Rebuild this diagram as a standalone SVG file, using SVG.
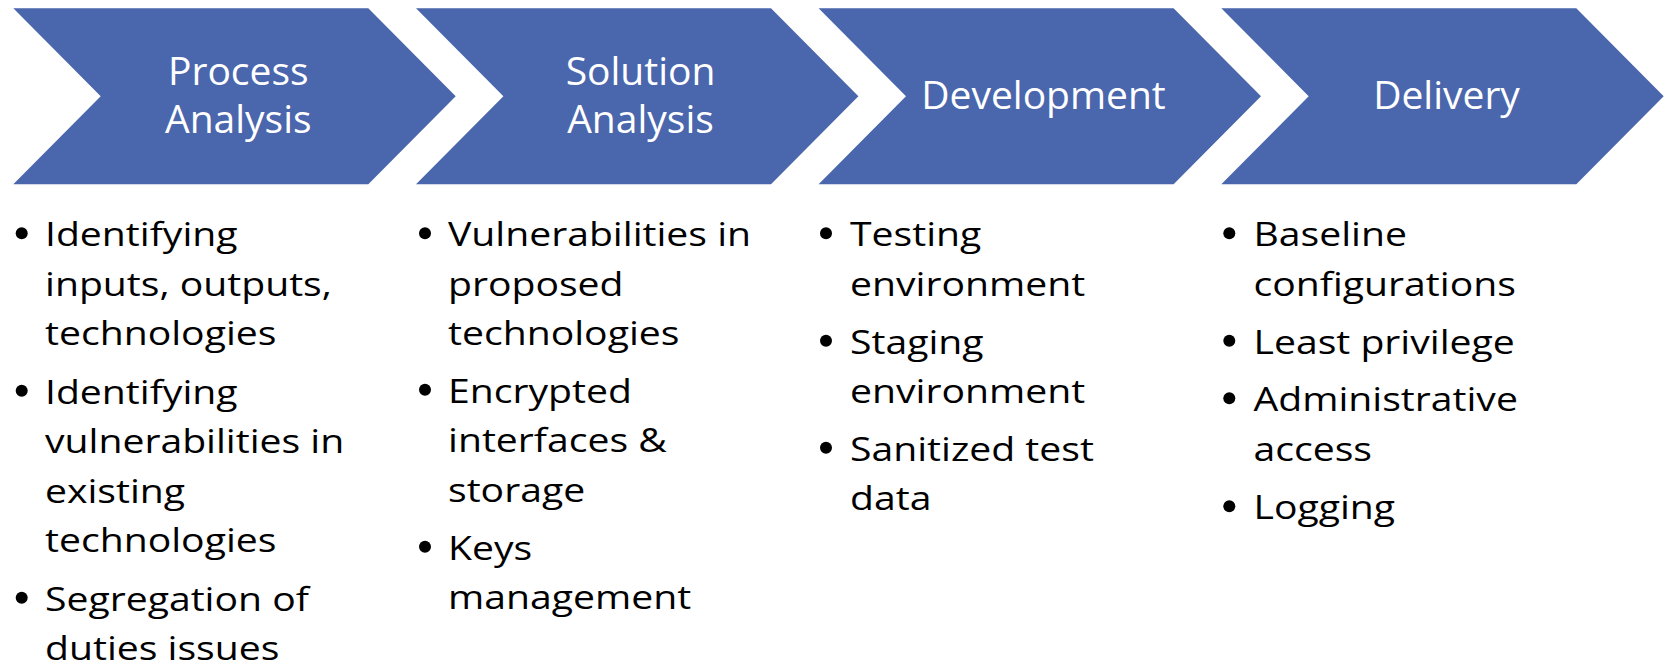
<svg xmlns="http://www.w3.org/2000/svg" width="1667" height="664" viewBox="0 0 1667 664">
<style>
.chev{fill:#4A66AC;}
.hd{font-family:"Open Sans","Liberation Sans",sans-serif;font-size:39px;fill:#FFFFFF;text-anchor:middle;}
.bd{font-family:"Open Sans","Liberation Sans",sans-serif;font-size:33.6px;fill:#000000;}
.bl{fill:#000000;}
</style>
<defs>
<polygon id="chevron" points="0,8.3 355,8.3 442.4,96.3 355,184.3 0,184.3 87.4,96.3"/>
</defs>
<rect x="0" y="0" width="1667" height="664" fill="#FFFFFF"/>
<g id="connectors"></g>
<g id="stage-process-analysis">
<use href="#chevron" class="chev" x="13.3" y="0"/>
<text class="hd"><tspan x="238.3" y="85">Process</tspan><tspan x="238.3" y="133.3">Analysis</tspan></text>
</g>
<g id="stage-solution-analysis">
<use href="#chevron" class="chev" x="416" y="0"/>
<text class="hd"><tspan x="640.5" y="84.5">Solution</tspan><tspan x="640.5" y="133.3">Analysis</tspan></text>
</g>
<g id="stage-development">
<use href="#chevron" class="chev" x="818.6" y="0"/>
<text class="hd"><tspan x="1043.5" y="109.3">Development</tspan></text>
</g>
<g id="stage-delivery">
<use href="#chevron" class="chev" x="1221.3" y="0"/>
<text class="hd"><tspan x="1446.5" y="109.3">Delivery</tspan></text>
</g>
<g id="list-process-analysis">
<circle class="bl" cx="21.7" cy="233.2" r="6"/>
<circle class="bl" cx="21.7" cy="390.7" r="6"/>
<circle class="bl" cx="21.7" cy="597.7" r="6"/>
<text class="bd" transform="translate(45 0) scale(1.165 1)"><tspan x="0" y="246.5">Identifying</tspan><tspan x="0" y="296">inputs, outputs,</tspan><tspan x="0" y="345.5">technologies</tspan><tspan x="0" y="404">Identifying</tspan><tspan x="0" y="453.5">vulnerabilities in</tspan><tspan x="0" y="503">existing</tspan><tspan x="0" y="552.5">technologies</tspan><tspan x="0" y="611">Segregation of</tspan><tspan x="0" y="660.5">duties issues</tspan></text>
</g>
<g id="list-solution-analysis">
<circle class="bl" cx="425" cy="233.2" r="6"/>
<circle class="bl" cx="425" cy="389.7" r="6"/>
<circle class="bl" cx="425" cy="546.7" r="6"/>
<text class="bd" transform="translate(448 0) scale(1.165 1)"><tspan x="0" y="246.5">Vulnerabilities in</tspan><tspan x="0" y="296">proposed</tspan><tspan x="0" y="345.5">technologies</tspan><tspan x="0" y="403">Encrypted</tspan><tspan x="0" y="452.5">interfaces &amp;</tspan><tspan x="0" y="502">storage</tspan><tspan x="0" y="560">Keys</tspan><tspan x="0" y="609.5">management</tspan></text>
</g>
<g id="list-development">
<circle class="bl" cx="826" cy="233.2" r="6"/>
<circle class="bl" cx="826" cy="340.7" r="6"/>
<circle class="bl" cx="826" cy="447.7" r="6"/>
<text class="bd" transform="translate(850 0) scale(1.165 1)"><tspan x="0" y="246.5">Testing</tspan><tspan x="0" y="296">environment</tspan><tspan x="0" y="354">Staging</tspan><tspan x="0" y="403.5">environment</tspan><tspan x="0" y="461">Sanitized test</tspan><tspan x="0" y="510.5">data</tspan></text>
</g>
<g id="list-delivery">
<circle class="bl" cx="1229.3" cy="233.2" r="6"/>
<circle class="bl" cx="1229.3" cy="340.7" r="6"/>
<circle class="bl" cx="1229.3" cy="398.2" r="6"/>
<circle class="bl" cx="1229.3" cy="506.2" r="6"/>
<text class="bd" transform="translate(1253.5 0) scale(1.165 1)"><tspan x="0" y="246.5">Baseline</tspan><tspan x="0" y="296">configurations</tspan><tspan x="0" y="354">Least privilege</tspan><tspan x="0" y="411.5">Administrative</tspan><tspan x="0" y="461">access</tspan><tspan x="0" y="519.5">Logging</tspan></text>
</g>
</svg>
